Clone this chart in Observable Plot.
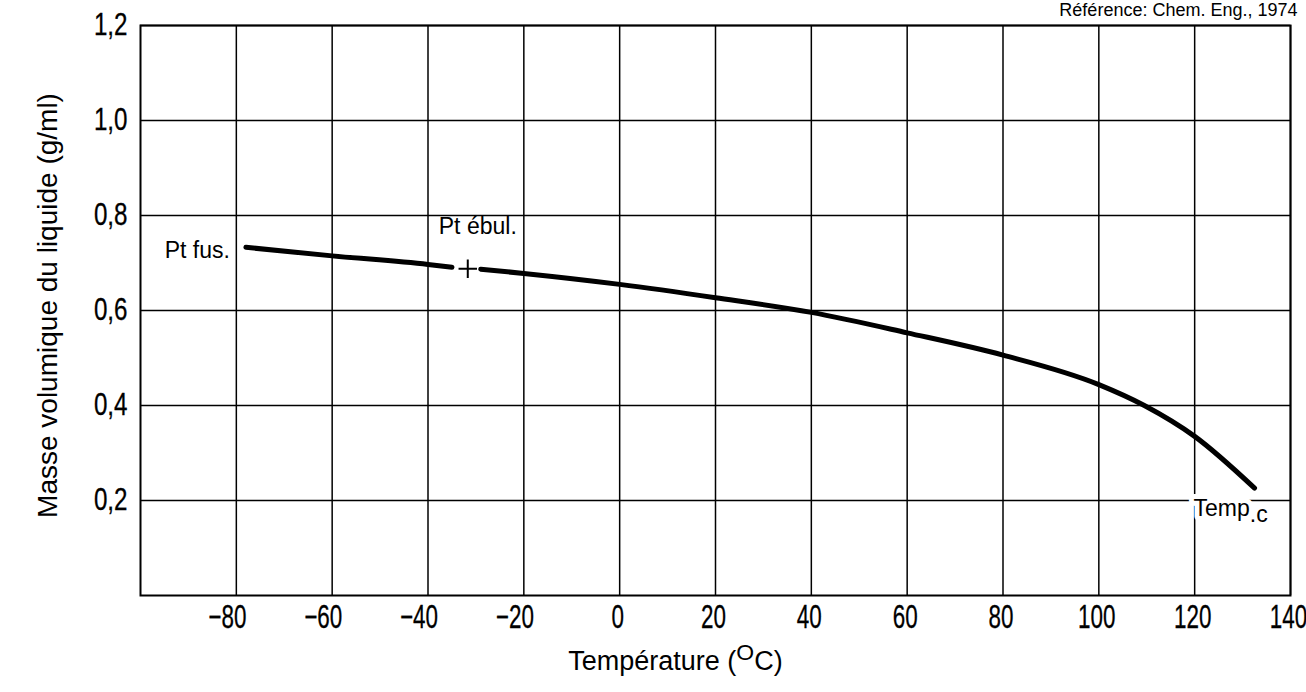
<!DOCTYPE html>
<html><head><meta charset="utf-8">
<script src="https://cdn.jsdelivr.net/npm/d3@7"></script>
<script src="https://cdn.jsdelivr.net/npm/@observablehq/plot@0.6"></script>
<style>body{margin:0;background:#fff;} svg{display:block;}</style>
</head><body><div id="chart"></div>
<script>
// Tick values
const xTicks = [-80, -60, -40, -20, 0, 20, 40, 60, 80, 100, 120, 140];
const yTicks = [0.2, 0.4, 0.6, 0.8, 1.0, 1.2];
// Liquid density curve, segment from melting point to just before boiling point
const segATemp = [-78, -60, -40, -35];
const segADens = [0.733, 0.715, 0.697, 0.691];
// Segment from just after boiling point to the critical temperature
const segBTemp = [-29, -20, 0, 20, 40, 60, 80, 100, 109.5, 120, 132.5];
const segBDens = [0.687, 0.678, 0.655, 0.627, 0.596, 0.553, 0.506, 0.444, 0.400, 0.335, 0.226];
// Boiling point marker
const boilTemp = [-31.7];
const boilDens = [0.688];
// Annotation texts
const labelMelt = "Pt fus.";
const labelBoil = "Pt ébul.";
const labelCrit = "Temp.c";
const xLabel = "Température (OC)";
const yLabel = "Masse volumique du liquide (g/ml)";
const source = "Référence: Chem. Eng., 1974";

const segA = segATemp.map((t, i) => ({t, d: segADens[i]}));
const segB = segBTemp.map((t, i) => ({t, d: segBDens[i]}));
const boil = boilTemp.map((t, i) => ({t, d: boilDens[i]}));
const melt = [segA[0]];
const crit = [segB[segB.length - 1]];

const textFont = "'Liberation Sans', Arial, Helvetica, sans-serif";

const chart = Plot.plot({
  width: 1306,
  height: 692,
  marginLeft: 140,
  marginRight: 16,
  marginTop: 25,
  marginBottom: 97,
  style: {fontFamily: textFont, color: "black", background: "white"},
  x: {domain: [-100, 140]},
  y: {domain: [0, 1.2]},
  marks: [
    Plot.gridX(xTicks, {stroke: "black", strokeOpacity: 1, strokeWidth: 1.5}),
    Plot.gridY(yTicks, {stroke: "black", strokeOpacity: 1, strokeWidth: 1.5}),
    Plot.frame({stroke: "black", strokeWidth: 2}),
    Plot.axisX(xTicks.filter(d => d < 0), {
      tickSize: 0, tickPadding: 9, label: null, dx: -9,
      tickFormat: d => "\u2212" + Math.abs(d),
      fontSize: 33
    }),
    Plot.axisX(xTicks.filter(d => d >= 0), {
      tickSize: 0, tickPadding: 9, label: null, dx: -2,
      tickFormat: d => String(d),
      fontSize: 33
    }),
    Plot.axisY(yTicks, {
      tickSize: 0, tickPadding: 13, label: null,
      tickFormat: d => d.toFixed(1).replace(".", ","),
      fontSize: 31
    }),
    Plot.line(segA, {x: "t", y: "d", stroke: "black", strokeWidth: 5, curve: "monotone-x", strokeLinecap: "round"}),
    Plot.line(segB, {x: "t", y: "d", stroke: "black", strokeWidth: 5, curve: "monotone-x", strokeLinecap: "round"}),
    Plot.dot(boil, {x: "t", y: "d", symbol: "plus", r: 6, stroke: "black", strokeWidth: 2}),
    Plot.text(melt, {x: "t", y: "d", text: () => labelMelt, textAnchor: "end", dx: -16, dy: 3, fontSize: 23}),
    Plot.text(boil, {x: "t", y: "d", text: () => labelBoil, textAnchor: "start", dx: -29, dy: -42, fontSize: 23}),
    Plot.text(crit, {x: "t", y: "d", text: () => labelCrit, textAnchor: "start", dx: -61, dy: 20, fontSize: 23,
      stroke: "white", strokeWidth: 10, fill: "black", paintOrder: "stroke"}),
    Plot.text([yLabel], {frameAnchor: "left", text: d => d, rotate: -90, textAnchor: "middle", dx: -92, dy: -5, fontSize: 28}),
    Plot.text([xLabel], {frameAnchor: "bottom", text: d => d, dx: -40, dy: 74, fontSize: 27}),
    Plot.text([source], {frameAnchor: "top-right", text: d => d, textAnchor: "end", lineAnchor: "bottom", dx: 7, dy: -10, fontSize: 18})
  ]
});

const svg = d3.select(chart);
// narrow, condensed look of the tick labels
svg.selectAll('g[aria-label="x-axis tick label"] text').each(function() {
  const t = this.getAttribute("transform") || "";
  this.setAttribute("transform", t + " scale(0.68,1)");
  this.setAttribute("stroke", "black");
  this.setAttribute("stroke-width", "0.3");
});
svg.selectAll('g[aria-label="y-axis tick label"] text').each(function() {
  const t = this.getAttribute("transform") || "";
  this.setAttribute("transform", t + " scale(0.78,1)");
  this.setAttribute("stroke", "black");
  this.setAttribute("stroke-width", "0.3");
});
svg.selectAll("text").each(function() {
  const el = d3.select(this);
  const txt = this.textContent;
  if (txt === xLabel) {
    el.text(null);
    el.append("tspan").text("Température (");
    el.append("tspan").attr("dy", "-0.4em").attr("font-size", "0.85em").text("O");
    el.append("tspan").attr("dy", "0.34em").text("C)");
  } else if (txt === labelCrit) {
    el.text(null);
    el.append("tspan").text("Temp");
    el.append("tspan").attr("dy", "0.3em").text(".c");
  }
});

document.getElementById("chart").appendChild(chart);
</script>
</body></html>
